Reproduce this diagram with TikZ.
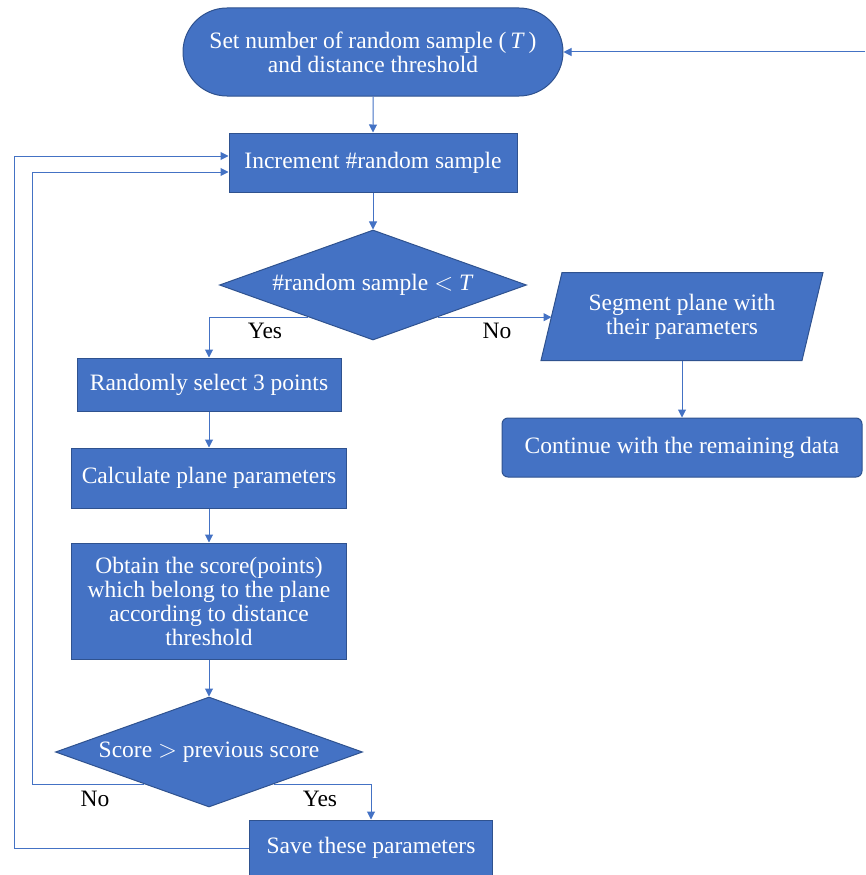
\documentclass[tikz,border=0pt]{standalone}
\usepackage{fontspec}
\setmainfont{Liberation Serif}
\usetikzlibrary{shapes.geometric,shapes.misc,arrows.meta,calc}
\definecolor{fillb}{HTML}{4472C4}
\definecolor{edgeb}{HTML}{2F528F}
\definecolor{lineb}{HTML}{4472C4}
\begin{document}
\begin{tikzpicture}[x=1pt,y=-1pt,
  base/.style={fill=fillb,draw=edgeb,line width=1pt,text=white,
    font=\fontsize{23.5}{24}\selectfont,align=center,inner sep=0pt},
  conn/.style={draw=lineb,line width=1pt,-{Triangle[width=8pt,length=8pt]}},
  lbl/.style={font=\fontsize{23.5}{24}\selectfont,text=black}
]
\useasboundingbox (0,0) rectangle (865,875);

\node[base,rounded rectangle,minimum width=380pt,minimum height=88pt] (start) at (373,52)
  {Set number of random sample (\,\textit{T}\,)\\and distance threshold};
\node[base,minimum width=288pt,minimum height=59pt] (inc) at (373,162.5)
  {Increment \#random sample};
\node[base,diamond,aspect=2.8,minimum width=307pt,minimum height=110pt] (d1) at (373,285)
  {\#random sample $<$ \textit{T}};
% parallelogram: invisible frame node + outline drawn from its corners
\node[base,draw=none,fill=none,minimum width=260pt,minimum height=87pt] (seg) at (682,316.5)
  {\phantom{Segment plane with}};
\fill[fillb,draw=edgeb,line width=1pt]
  ($(seg.north west)+(10.5,0)$) -- ($(seg.north east)+(10.5,0)$) --
  ($(seg.south east)+(-10.5,0)$) -- ($(seg.south west)+(-10.5,0)$) -- cycle;
\node[base,draw=none,fill=none] (segtext) at (seg.center) {Segment plane with\\their parameters};
\node[base,rounded corners=6pt,minimum width=360pt,minimum height=59pt] (cont) at (682,447.5)
  {Continue with the remaining data};
\node[base,minimum width=264pt,minimum height=53pt] (rand) at (209,384.5)
  {Randomly select 3 points};
\node[base,minimum width=275pt,minimum height=60pt] (calcp) at (209,478)
  {Calculate plane parameters};
\node[base,minimum width=275pt,minimum height=116pt] (obt) at (209,601)
  {Obtain the score(points)\\which belong to the plane\\according to distance\\threshold};
\node[base,diamond,aspect=2.8,minimum width=307pt,minimum height=110pt] (d2) at (209,752)
  {Score $>$ previous score};
\node[base,minimum width=243pt,minimum height=56pt] (save) at (371,848)
  {Save these parameters};

\coordinate (ext) at (865,52);
\coordinate (lx1) at (32,0);
\coordinate (lx2) at (14,0);
\coordinate (d1yes) at ($(d1.west)!0.58!(d1.south)$);
\coordinate (d1no) at ($(d1.east)!0.58!(d1.south)$);
\coordinate (d2no) at ($(d2.west)!0.58!(d2.south)$);
\coordinate (d2yes) at ($(d2.east)!0.58!(d2.south)$);

\draw[conn] (ext) -- (start.east);
\draw[conn] (start) -- (inc);
\draw[conn] (inc) -- (d1);
\draw[conn] (d1yes) -| (rand.north);
\draw[conn] (d1no) -- (d1no -| seg.west);
\draw[conn] (seg) -- (cont);
\draw[conn] (rand) -- (calcp);
\draw[conn] (calcp) -- (obt);
\draw[conn] (obt) -- (d2);
\draw[conn] (d2no) -- (d2no -| lx1) |- ($(inc.west)+(0,9.5)$);
\draw[conn] (d2yes) -| (save.north);
\draw[conn] (save.west) -- (save.west -| lx2) |- ($(inc.west)+(0,-6.5)$);

\node[lbl] (yes1) at (265,331) {Yes};
\node[lbl] (no1) at (497,331) {No};
\node[lbl] (no2) at (95,799) {No};
\node[lbl] (yes2) at (320,799) {Yes};
\end{tikzpicture}
\end{document}
